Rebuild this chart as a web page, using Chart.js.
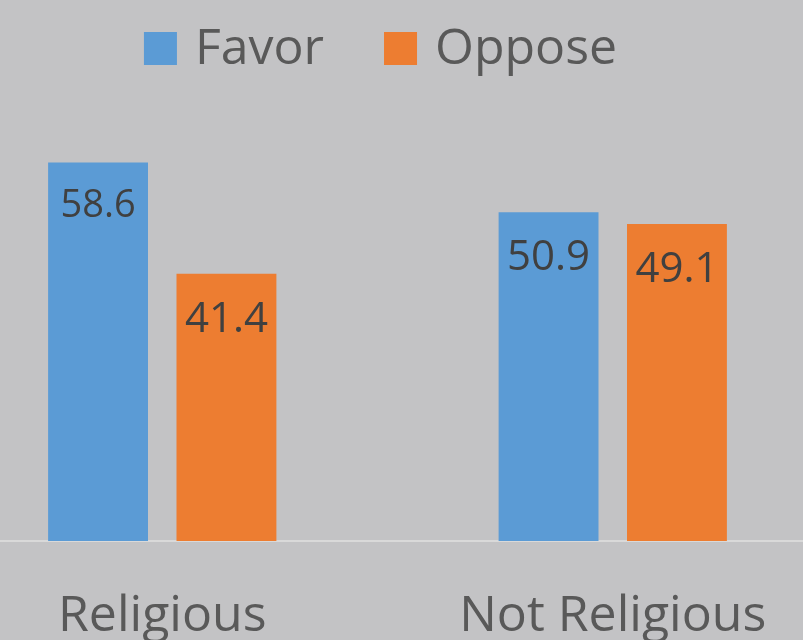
<!DOCTYPE html>
<html>
<head>
<meta charset="utf-8">
<script src="https://cdn.jsdelivr.net/npm/chart.js@4"></script>
<style>
  html, body { margin: 0; padding: 0; background: #c3c3c5; overflow: hidden; }
  body { width: 803px; height: 640px; position: relative; }
  #wrap { position: absolute; left: -63px; top: 0; width: 901px; height: 685px; }
</style>
</head>
<body>
<div id="wrap"><canvas id="chart"></canvas></div>
<script>
// === data ===
const categories = ["Religious", "Not Religious"];
const favorValues = [58.6, 50.9];
const opposeValues = [41.4, 49.1];
const seriesNames = ["Favor", "Oppose"];

const textColor = "#595959";
const labelColor = "#404040";
const fontFamily = "'Open Sans', sans-serif";

// value label size per bar [dataset][category]; the first one is a bit smaller in the original
const labelSizes = [[38, 42], [42, 42]];

// draws the value inside the top of each bar
const valueLabels = {
  id: "valueLabels",
  afterDatasetsDraw(chart) {
    const ctx = chart.ctx;
    ctx.save();
    ctx.fillStyle = labelColor;
    ctx.textAlign = "center";
    ctx.textBaseline = "alphabetic";
    chart.data.datasets.forEach((ds, i) => {
      chart.getDatasetMeta(i).data.forEach((bar, j) => {
        const size = labelSizes[i][j];
        ctx.font = `${size}px ${fontFamily}`;
        ctx.fillText(ds.data[j].toFixed(1), bar.x, bar.y + size + 16);
      });
    });
    ctx.restore();
  }
};

// legend in the Excel style: square swatch, big grey text, wide gaps
const topLegend = {
  id: "topLegend",
  afterDraw(chart) {
    const ctx = chart.ctx;
    const box = 33, textGap = 18, itemGap = 60;
    ctx.save();
    ctx.font = `50px ${fontFamily}`;
    const items = chart.data.datasets.map(ds => ({
      text: ds.label,
      color: ds.backgroundColor,
      w: ctx.measureText(ds.label).width
    }));
    const total = items.reduce((s, it) => s + box + textGap + it.w, 0) + itemGap * (items.length - 1);
    let x = chart.width / 2 - 7 - total / 2;
    ctx.textBaseline = "alphabetic";
    ctx.textAlign = "left";
    items.forEach(it => {
      ctx.fillStyle = it.color;
      ctx.fillRect(x, 32, box, box);
      x += box + textGap;
      ctx.fillStyle = textColor;
      ctx.fillText(it.text, x, 64);
      x += it.w + itemGap;
    });
    ctx.restore();
  }
};

new Chart(document.getElementById("chart"), {
  type: "bar",
  data: {
    labels: categories,
    datasets: [
      { label: seriesNames[0], data: favorValues, backgroundColor: "#5b9bd5" },
      { label: seriesNames[1], data: opposeValues, backgroundColor: "#ed7d31" }
    ]
  },
  options: {
    responsive: true,
    maintainAspectRatio: false,
    animation: false,
    categoryPercentage: 0.57,
    barPercentage: 0.778,
    layout: { padding: { top: 89, left: 0, right: 0, bottom: 0 } },
    plugins: {
      legend: { display: false },
      tooltip: { enabled: false }
    },
    scales: {
      x: {
        grid: { display: false },
        border: { color: "#d9d9d9", width: 2 },
        ticks: {
          color: textColor,
          font: { size: 50, family: fontFamily },
          padding: 38,
          maxRotation: 0
        }
      },
      y: {
        display: false,
        min: 0,
        max: 70
      }
    }
  },
  plugins: [valueLabels, topLegend]
});
</script>
</body>
</html>
